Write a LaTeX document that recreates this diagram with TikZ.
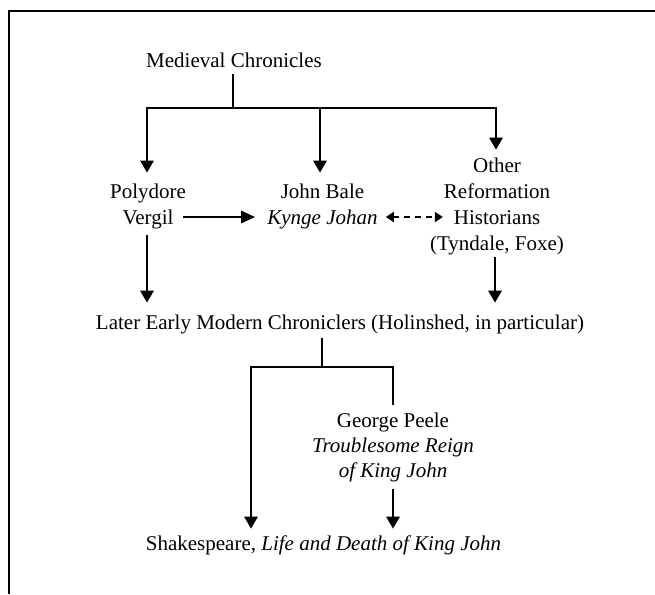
\documentclass[tikz,border=0pt]{standalone}
\usepackage{fontspec}
\setmainfont{Liberation Serif}
\usetikzlibrary{arrows.meta,calc}
\begin{document}
\begin{tikzpicture}[x=1pt,y=1pt,
  lbl/.style={inner sep=0pt, align=center, anchor=north, font=\fontsize{21}{26}\selectfont},
  conn/.style={line width=2.8pt},
  arr/.style={conn, -{Triangle[length=12pt,width=13pt]}},
  harr/.style={conn, -{Triangle[length=14pt,width=12pt]}},
  darr/.style={line width=2.4pt, dash pattern=on 6pt off 5pt, {Triangle[length=8pt,width=10pt]}-{Triangle[length=8pt,width=10pt]}},
  frame/.style={line width=2.5pt}]
\useasboundingbox (0,0) rectangle (655,-594);
\draw[frame] (655,-11) -- (9,-11) -- (9,-594);

\node[lbl] (med) at (234,-52.7) {Medieval Chronicles};
\node[lbl] (poly) at (148,-183.7) {Polydore\\Vergil};
\node[lbl] (bale) at (322.5,-183.7) {John Bale\\\textit{Kynge Johan}};
\node[lbl] (other) at (497,-157.7) {Other\\Reformation\\Historians\\(Tyndale, Foxe)};
\node[lbl] (later) at (340,-314.7) {Later Early Modern Chroniclers (Holinshed, in particular)};
\node[lbl, font=\fontsize{21}{25}\selectfont] (peele) at (393,-412.7) {George Peele\\\textit{Troublesome Reign}\\\textit{of King John}};
\node[lbl] (shak) at (323.5,-535.7) {Shakespeare, \textit{Life and Death of King John}};

\coordinate (j1) at (233,-108);
\coordinate (bm) at (320,-108);
\coordinate (r2) at (0,-217);
\coordinate (j2) at (322,-367);
\coordinate (bl2) at (251,-367);

\draw[conn] ($(med.south -| j1)+(0,-6)$) -- (j1);
\draw[arr] (j1) -| ($(poly.north)+(-1,11)$);
\draw[arr] (j1) -| ($(other.north)+(-1,8)$);
\draw[arr] (bm) -- ($(bale.north -| bm)+(0,11)$);

\draw[harr] ($(poly.east |- r2)+(-3,0)$) -- ($(bale.west |- r2)+(-12,0)$);
\draw[darr] ($(bale.east |- r2)+(8,0)$) -- ($(other.west |- r2)+(13,0)$);

\draw[arr] ($(poly.south)+(-1,-6)$) -- ($(poly.south |- later.north)+(-1,12)$);
\draw[arr] ($(other.south)+(-2,-2)$) -- ($(other.south |- later.north)+(-2,12)$);

\draw[conn] ($(later.south -| j2)+(0,-3.5)$) -- (j2);
\draw[arr] (j2) -| ($(bl2 |- shak.north)+(0,7)$);
\draw[conn] (j2) -| ($(peele.north)+(0,8)$);
\draw[arr] ($(peele.south)+(0,-7)$) -- ($(peele.south |- shak.north)+(0,7)$);
\end{tikzpicture}
\end{document}
